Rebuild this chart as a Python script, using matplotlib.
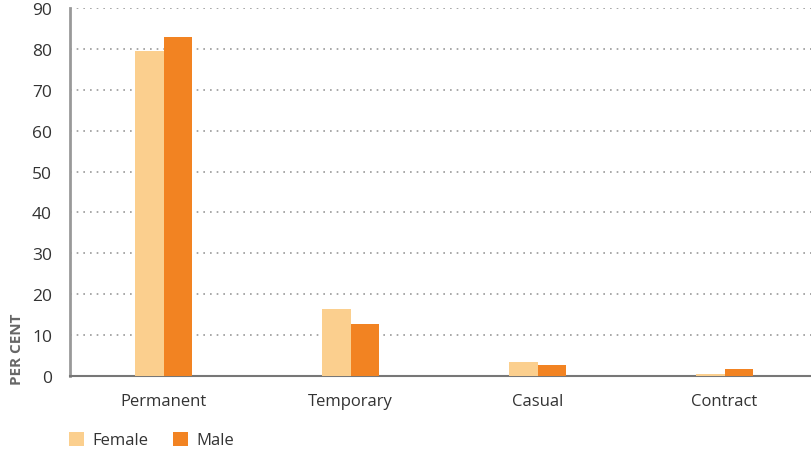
import matplotlib
matplotlib.use("Agg")
import matplotlib.pyplot as plt
import numpy as np

categories = ["Permanent", "Temporary", "Casual", "Contract"]
female = [79.5, 16.4, 3.5, 0.4]
male = [83.0, 12.7, 2.8, 1.6]
yticks = [0, 10, 20, 30, 40, 50, 60, 70, 80, 90]

plt.rcParams['font.family'] = ['Open Sans', 'DejaVu Sans']

fig = plt.figure(figsize=(8.11, 4.56), dpi=100)
ax = fig.add_axes([70/811, 1 - 377/456, 748/811, 368/456])

x = np.arange(len(categories))
w = 0.155
ax.bar(x - w/2, female, w, color='#FBCF8E', label='Female', zorder=3)
ax.bar(x + w/2, male, w, color='#F28322', label='Male', zorder=3)

ax.set_xlim(-0.5, 3.5)
ax.set_ylim(0, 90)
ax.set_yticks(yticks)
ax.set_xticks(x)
ax.set_xticklabels(categories, fontsize=12, color='#333333')
ax.tick_params(axis='y', labelsize=12.5, colors='#333333', length=0, pad=13)
ax.tick_params(axis='x', length=0, pad=12)
for t in yticks[1:]:
    ax.axhline(t, color='#999999', linestyle=(0, (1, 3)), linewidth=1.2, zorder=1)

for s in ['top', 'right']:
    ax.spines[s].set_visible(False)
ax.spines['left'].set_color('#999999')
ax.spines['left'].set_linewidth(2)
ax.spines['bottom'].set_color('#777777')
ax.spines['bottom'].set_linewidth(1.5)

fig.text(17/811, 1 - 349/456, 'PER CENT', rotation=90, fontsize=11, fontweight='bold',
         color='#666666', ha='center', va='center')

leg = fig.legend(loc='center left', bbox_to_anchor=(69/811, 1 - 441/456), ncol=2, frameon=False,
                 fontsize=12, handlelength=0.9, handleheight=0.9, handletextpad=0.5,
                 columnspacing=1.5, borderpad=0, borderaxespad=0)
for t in leg.get_texts():
    t.set_color('#333333')

fig.savefig("out.png", dpi=100)
